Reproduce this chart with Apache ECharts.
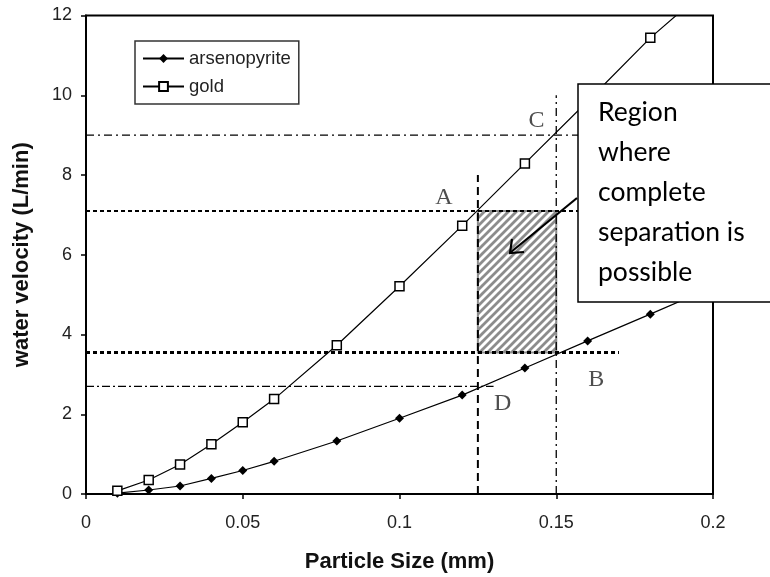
<!DOCTYPE html>
<html><head><meta charset="utf-8">
<script src="https://cdn.jsdelivr.net/npm/echarts@6/dist/echarts.min.js"></script>
<style>html,body{margin:0;padding:0;background:#fff}#c{width:770px;height:577px}</style>
</head><body><div id="c"></div>
<script>
// ---- data ----
const particleSize = [0.01, 0.02, 0.03, 0.04, 0.05, 0.06, 0.08, 0.1, 0.12, 0.14, 0.16, 0.18, 0.2];
const arsenopyrite = [0.02, 0.1, 0.2, 0.39, 0.59, 0.82, 1.33, 1.9, 2.48, 3.16, 3.84, 4.51, 5.19];
const gold = [0.08, 0.35, 0.74, 1.25, 1.8, 2.38, 3.73, 5.21, 6.73, 8.29, 9.85, 11.44, 12.8];
const xTicks = [0, 0.05, 0.1, 0.15, 0.2];
const yTicks = [0, 2, 4, 6, 8, 10, 12];
// reference lines
const refY = [9.0, 7.1, 3.55, 2.7];
const refYEnd = [0.16, 0.16, 0.17, 0.13];
const refX = [0.15, 0.125];
const refXTop = [10.0, 8.0];
// separation region
const regionX = [0.125, 0.15];
const regionY = [3.55, 7.1];
// point labels
const pointLabels = ['A', 'B', 'C', 'D'];
const pointLabelX = [0.1142, 0.1628, 0.1437, 0.1329];
const pointLabelY = [7.44, 2.86, 9.36, 2.27];
const boxText = ['Region', 'where', 'complete', 'separation is', 'possible'];

// ---- hatch pattern ----
function makeHatch() {
  const c = document.createElement('canvas');
  c.width = 8; c.height = 8;
  const g = c.getContext('2d');
  g.strokeStyle = '#8c8c8c';
  g.lineWidth = 2.8;
  g.beginPath();
  g.moveTo(-2, 10); g.lineTo(10, -2);
  g.moveTo(-2, 2); g.lineTo(2, -2);
  g.moveTo(6, 10); g.lineTo(10, 6);
  g.stroke();
  return c;
}
const hatch = makeHatch();

const refStylesY = [
  {width: 1.3, type: [8, 4, 2, 4]},
  {width: 2, type: [4, 3]},
  {width: 3, type: [4, 3]},
  {width: 1.3, type: [8, 3, 2, 3]}
];
const refStylesX = [
  {width: 1.3, type: [8, 4, 2, 4]},
  {width: 2, type: [8, 5]}
];

const series = [];
series.push({
  type: 'custom', z: 1, silent: true,
  data: [[regionX[0], regionY[0]]],
  renderItem: function (params, api) {
    const p1 = api.coord([regionX[0], regionY[1]]);
    const p2 = api.coord([regionX[1], regionY[0]]);
    return {
      type: 'rect',
      shape: {x: p1[0], y: p1[1], width: p2[0] - p1[0], height: p2[1] - p1[1]},
      style: {fill: {image: hatch, repeat: 'repeat'}, stroke: '#8c8c8c', lineWidth: 2}
    };
  }
});
refY.forEach(function (y, i) {
  series.push({
    type: 'line', z: 2, silent: true, symbol: 'none',
    data: [[0, y], [refYEnd[i], y]],
    lineStyle: {color: '#000', width: refStylesY[i].width, type: refStylesY[i].type}
  });
});
refX.forEach(function (x, i) {
  series.push({
    type: 'line', z: 2, silent: true, symbol: 'none',
    data: [[x, 0], [x, refXTop[i]]],
    lineStyle: {color: '#000', width: refStylesX[i].width, type: refStylesX[i].type}
  });
});
series.push({
  name: 'arsenopyrite', type: 'line', z: 3,
  data: particleSize.map(function (x, i) { return [x, arsenopyrite[i]]; }),
  symbol: 'diamond', symbolSize: 9,
  itemStyle: {color: '#000'},
  lineStyle: {color: '#000', width: 1.2}
});
series.push({
  name: 'gold', type: 'line', z: 4,
  data: particleSize.map(function (x, i) { return [x, gold[i]]; }),
  symbol: 'rect', symbolSize: 9,
  itemStyle: {color: '#fff', borderColor: '#000', borderWidth: 1.5},
  lineStyle: {color: '#000', width: 1.2}
});
series.push({
  type: 'scatter', z: 5, silent: true, symbolSize: 0,
  data: pointLabels.map(function (t, i) { return {value: [pointLabelX[i], pointLabelY[i]], name: t}; }),
  label: {show: true, position: 'inside', formatter: '{b}', color: '#222',
          fontFamily: 'Liberation Serif', fontSize: 24}
});

const axisFont = {fontFamily: 'Liberation Sans', fontSize: 18, color: '#222'};
const chart = echarts.init(document.getElementById('c'), null, {renderer: 'canvas'});
chart.setOption({
  animation: false,
  backgroundColor: '#fff',
  grid: {left: 86, top: 15.5, right: 57, bottom: 83, show: true, containLabel: false,
         outerBoundsMode: 'none',
         borderColor: '#000', borderWidth: 2, backgroundColor: 'transparent'},
  xAxis: {
    type: 'value', min: 0, max: 0.2, interval: 0.05,
    name: 'Particle Size (mm)', nameLocation: 'middle', nameGap: 57,
    nameTextStyle: {fontFamily: 'Liberation Sans', fontSize: 22, fontWeight: 'bold', color: '#111'},
    axisLine: {lineStyle: {color: '#000', width: 2}},
    axisTick: {show: true, inside: false, length: 5, lineStyle: {color: '#000', width: 1.5}},
    axisLabel: Object.assign({margin: 20, formatter: function (v) { return String(xTicks.find(function (t) { return Math.abs(t - v) < 1e-9; }) ?? v); }}, axisFont),
    splitLine: {show: false}
  },
  yAxis: {
    type: 'value', min: 0, max: 12, interval: 2,
    name: 'water velocity (L/min)', nameLocation: 'middle', nameGap: 53, nameRotate: 90,
    nameTextStyle: {fontFamily: 'Liberation Sans', fontSize: 22, fontWeight: 'bold', color: '#111'},
    axisLine: {show: true, lineStyle: {color: '#000', width: 2}},
    axisTick: {show: true, inside: false, length: 5, lineStyle: {color: '#000', width: 1.5}},
    axisLabel: Object.assign({margin: 14, formatter: function (v) { return String(yTicks.find(function (t) { return t === v; }) ?? v); }}, axisFont),
    splitLine: {show: false}
  },
  legend: {
    data: ['arsenopyrite', 'gold'],
    orient: 'vertical', left: 135, top: 41,
    padding: [8, 8, 8, 7], itemWidth: 41, itemHeight: 11, itemGap: 9,
    borderColor: '#333', borderWidth: 1.5, backgroundColor: '#fff',
    textStyle: {fontFamily: 'Liberation Sans', fontSize: 18.5, color: '#222'}
  },
  graphic: [
    {type: 'rect', z: 100, shape: {x: 578, y: 84, width: 210, height: 218},
     style: {fill: '#fff', stroke: '#000', lineWidth: 1.5}},
    {type: 'text', z: 101, x: 598, y: 92,
     style: {text: boxText.join('\n'), fontFamily: 'Lato', fontSize: 26.5, lineHeight: 40, fill: '#000'}},
    {type: 'line', z: 102, shape: {x1: 577, y1: 198, x2: 511, y2: 252},
     style: {stroke: '#000', lineWidth: 2.2}},
    {type: 'polyline', z: 102, shape: {points: [[512, 239], [510, 253], [524, 252]]},
     style: {stroke: '#000', lineWidth: 2.2, fill: null}}
  ],
  series: series
});
</script></body></html>
